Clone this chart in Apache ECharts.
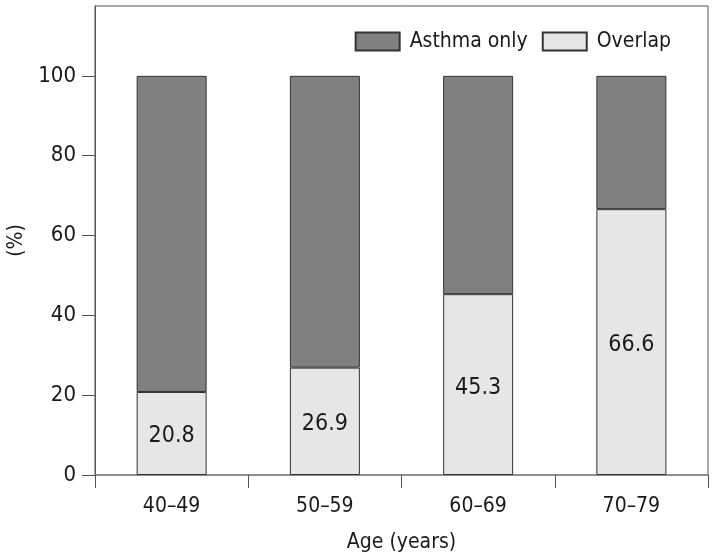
<!DOCTYPE html>
<html>
<head>
<meta charset="utf-8">
<script src="https://cdn.jsdelivr.net/npm/echarts@6/dist/echarts.min.js"></script>
<style>html,body{margin:0;padding:0;background:#fff}#c{width:714px;height:558px}</style>
</head>
<body>
<div id="c"></div>
<script>
const categories = ['40–49', '50–59', '60–69', '70–79'];
const overlap = [20.8, 26.9, 45.3, 66.6];
const asthmaOnly = [79.2, 73.1, 54.7, 33.4];
const yTicks = [0, 20, 40, 60, 80, 100];

const FONT = '"Liberation Sans Narrow", "DejaVu Sans Condensed", "Roboto", sans-serif';
const chart = echarts.init(document.getElementById('c'));
chart.setOption({
  animation: false,
  textStyle: { fontFamily: FONT },
  grid: { left: 95, right: 6, top: 6, bottom: 83, outerBoundsMode: 'none', containLabel: false, show: true, borderColor: '#555', borderWidth: 1, backgroundColor: 'transparent' },
  legend: {
    data: ['Asthma only', 'Overlap'],
    right: 38, top: 26,
    itemWidth: 44, itemHeight: 18, itemGap: 14,
    icon: 'rect',
    textStyle: { fontFamily: FONT, fontSize: 21, color: '#1a1a1a', padding: [0, 0, 0, 5] }
  },
  xAxis: {
    type: 'category',
    data: categories,
    name: 'Age (years)',
    nameLocation: 'middle',
    nameGap: 57,
    nameTextStyle: { fontFamily: FONT, fontSize: 21, color: '#1a1a1a' },
    axisLine: { lineStyle: { color: '#888', width: 1.5 } },
    axisTick: { show: true, length: 13, lineStyle: { color: '#555' } },
    axisLabel: { fontFamily: FONT, fontSize: 21, color: '#1a1a1a', margin: 21 },
    splitLine: { show: false }
  },
  yAxis: {
    type: 'value',
    min: 0, max: 117.5, interval: 20,
    name: '(%)',
    nameLocation: 'middle',
    nameGap: 58,
    nameTextStyle: { fontFamily: FONT, fontSize: 21, color: '#1a1a1a' },
    axisLine: { show: true, lineStyle: { color: '#555' } },
    axisTick: { show: true, length: 13, lineStyle: { color: '#555' }, customValues: yTicks },
    axisLabel: { fontFamily: FONT, fontSize: 22, color: '#1a1a1a', margin: 19, customValues: yTicks },
    splitLine: { show: false }
  },
  series: [
    {
      name: 'Overlap', type: 'bar', stack: 'a', barWidth: 70,
      data: overlap,
      itemStyle: { color: '#e6e6e6', borderColor: '#333', borderWidth: 1 },
      label: { show: true, position: 'inside', offset: [0, 3], fontFamily: FONT, fontSize: 23, color: '#1a1a1a' }
    },
    {
      name: 'Asthma only', type: 'bar', stack: 'a', barWidth: 70,
      data: asthmaOnly,
      itemStyle: { color: '#808080', borderColor: '#333', borderWidth: 1 }
    }
  ]
});
</script>
</body>
</html>
